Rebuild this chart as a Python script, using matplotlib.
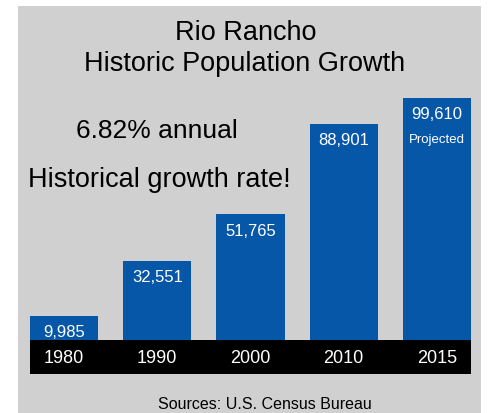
import matplotlib.pyplot as plt
from matplotlib.patches import Rectangle

years = ['1980', '1990', '2000', '2010', '2015']
population = [9985, 32551, 51765, 88901, 99610]
notes = ['', '', '', '', 'Projected']

W, H = 489, 414
bar_color = '#0757a8'
panel_color = '#d0d0d0'
plt.rcParams['font.family'] = ['Liberation Sans', 'DejaVu Sans']

fig = plt.figure(figsize=(W / 100, H / 100), dpi=100)
fig.patch.set_facecolor('white')


def fx(px):
    return px / W


def fy(py):
    return 1 - py / H


# gray background panel
fig.patches.append(Rectangle((fx(18), 0), fx(481) - fx(18), fy(7), transform=fig.transFigure,
                             facecolor=panel_color, edgecolor='none', zorder=-5))

# bar axes
ax = fig.add_axes([fx(30), fy(341), fx(471) - fx(30), fy(20) - fy(341)], zorder=2)
ax.set_facecolor('none')
x = list(range(len(years)))
bars = ax.bar(x, population, width=0.73, color=bar_color)
ax.set_xlim(-0.366, len(years) - 1 + 0.366)
ax.set_ylim(0, 132000)
ax.axis('off')

for xi, v, note in zip(x, population, notes):
    ax.annotate(f'{v:,}', (xi, v), xytext=(0, -11.5), textcoords='offset points',
                ha='center', va='center', color='white', fontsize=12)
    if note:
        ax.annotate(note, (xi, v), xytext=(0, -30), textcoords='offset points',
                    ha='center', va='center', color='white', fontsize=9.5)

# black year band
band = fig.add_axes([fx(30), fy(375), fx(471) - fx(30), fy(341) - fy(375)], zorder=2)
band.set_facecolor('black')
band.set_xlim(ax.get_xlim())
band.set_ylim(0, 1)
for xi, yr in zip(x, years):
    band.text(xi, 0.48, yr, ha='center', va='center', color='white', fontsize=13)
band.set_xticks([])
band.set_yticks([])
for s in band.spines.values():
    s.set_visible(False)

# titles and notes
fig.text(fx(246), fy(33), 'Rio Rancho', ha='center', va='center', fontsize=19.5, zorder=3)
fig.text(fx(245), fy(64), 'Historic Population Growth', ha='center', va='center', fontsize=19.5, zorder=3)
fig.text(fx(157), fy(131), '6.82% annual', ha='center', va='center', fontsize=19, zorder=3)
fig.text(fx(28), fy(180), 'Historical growth rate!', ha='left', va='center', fontsize=19.5, zorder=3)
fig.text(fx(265), fy(405), 'Sources: U.S. Census Bureau', ha='center', va='center', fontsize=11.5, zorder=3)

fig.savefig('out.png', dpi=100)
